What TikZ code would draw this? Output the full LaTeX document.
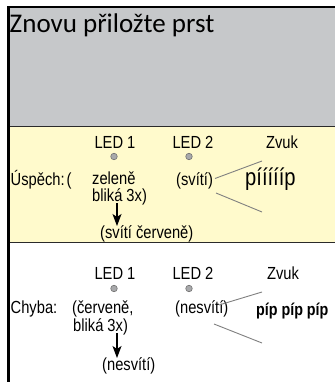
\documentclass[tikz,border=0pt]{standalone}
\usepackage{fontspec}
\setmainfont{Liberation Sans}
\newfontfamily\narf[FakeStretch=0.84]{Liberation Sans}
\newfontfamily\calf{Carlito}
\usetikzlibrary{arrows.meta}
\definecolor{greyfill}{HTML}{C6C8CA}
\definecolor{yellowfill}{HTML}{FFFACC}
\definecolor{dotfill}{HTML}{A8A9AB}
\definecolor{dotline}{HTML}{707070}
\definecolor{connline}{HTML}{808080}
\definecolor{sepline}{HTML}{2A2A2A}
\begin{document}
\begin{tikzpicture}[x=1pt,y=-1pt,
  lbl/.style={font=\narf\fontsize{17.5}{20}\selectfont, inner sep=0pt, anchor=base west},
  ledlbl/.style={font=\narf\fontsize{17.5}{20}\selectfont, inner sep=0pt, anchor=base},
  leddot/.style={circle, draw=dotline, fill=dotfill, line width=0.6pt, minimum size=6.5pt, inner sep=0pt},
  conn/.style={draw=connline, line width=0.9pt},
  downarrow/.style={draw=black, line width=1.1pt, -{Stealth[length=12pt,width=9pt,inset=3pt]}},
  sep/.style={draw=sepline, line width=1.6pt}]
\useasboundingbox (0,0) rectangle (335,382);
% backgrounds
\fill[greyfill] (9,8) rectangle (335,126.5);
\fill[yellowfill] (9,126.5) rectangle (335,242.5);
\fill[white] (9,242.5) rectangle (335,382);
\draw[sep] (8,126.5) -- (335,126.5);
\draw[sep] (8,242.5) -- (335,242.5);
\draw[black, line width=2pt] (7,7.5) -- (335,7.5);
\draw[black, line width=2.6pt] (8.5,6.5) -- (8.5,382);
% title
\node[font=\calf\fontsize{27}{30}\selectfont, inner sep=0pt, anchor=base west] (title) at (9.5,33) {Znovu přiložte prst};
% success band
\node[ledlbl] (s-led1) at (115,148) {LED 1};
\node[ledlbl] (s-led2) at (193,148) {LED 2};
\node[ledlbl] (s-zvuk) at (282,148) {Zvuk};
\node[leddot] (s-dot1) at (114,156.5) {};
\node[leddot] (s-dot2) at (189,156.5) {};
\node[lbl] (s-label) at (10.5,185) {Úspěch:\hspace{2pt}(};
\node[lbl] (s-l1a) at (92,184.5) {zeleně};
\node[lbl] (s-l1b) at (92,201) {bliká 3x)};
\node[lbl] (s-l2) at (176,185) {(svítí)};
\node[font=\narf\fontsize{24}{26}\selectfont, inner sep=0pt, anchor=base west] (s-snd) at (245,185) {píííííp};
\node[lbl] (s-after) at (100,238) {(svítí červeně)};
\coordinate (s-c1) at (215,178.5);
\coordinate (s-c2) at (262,161);
\coordinate (s-c3) at (216,193);
\coordinate (s-c4) at (262,212);
\draw[conn] (s-c1) -- (s-c2);
\draw[conn] (s-c3) -- (s-c4);
\coordinate (s-a1) at (117,203);
\coordinate (s-a2) at (117,226);
\draw[downarrow] (s-a1) -- (s-a2);
% error band
\node[ledlbl] (e-led1) at (115,279) {LED 1};
\node[ledlbl] (e-led2) at (193,279) {LED 2};
\node[ledlbl] (e-zvuk) at (283,279) {Zvuk};
\node[leddot] (e-dot1) at (114,288.5) {};
\node[leddot] (e-dot2) at (189,288.5) {};
\node[lbl] (e-label) at (10.5,313) {Chyba:};
\node[lbl] (e-l1a) at (72,313) {(červeně,};
\node[lbl] (e-l1b) at (73,331) {bliká 3x)};
\node[lbl] (e-l2) at (175,313) {(nesvítí)};
\node[font=\narf\bfseries\fontsize{17}{20}\selectfont, inner sep=0pt, anchor=base west] (e-snd) at (256,315) {píp píp píp};
\node[lbl] (e-after) at (102,370) {(nesvítí)};
\coordinate (e-c1) at (219,305);
\coordinate (e-c2) at (262,292);
\coordinate (e-c3) at (214,324);
\coordinate (e-c4) at (262,343);
\draw[conn] (e-c1) -- (e-c2);
\draw[conn] (e-c3) -- (e-c4);
\coordinate (e-a1) at (117,333);
\coordinate (e-a2) at (117,358);
\draw[downarrow] (e-a1) -- (e-a2);
\end{tikzpicture}
\end{document}
